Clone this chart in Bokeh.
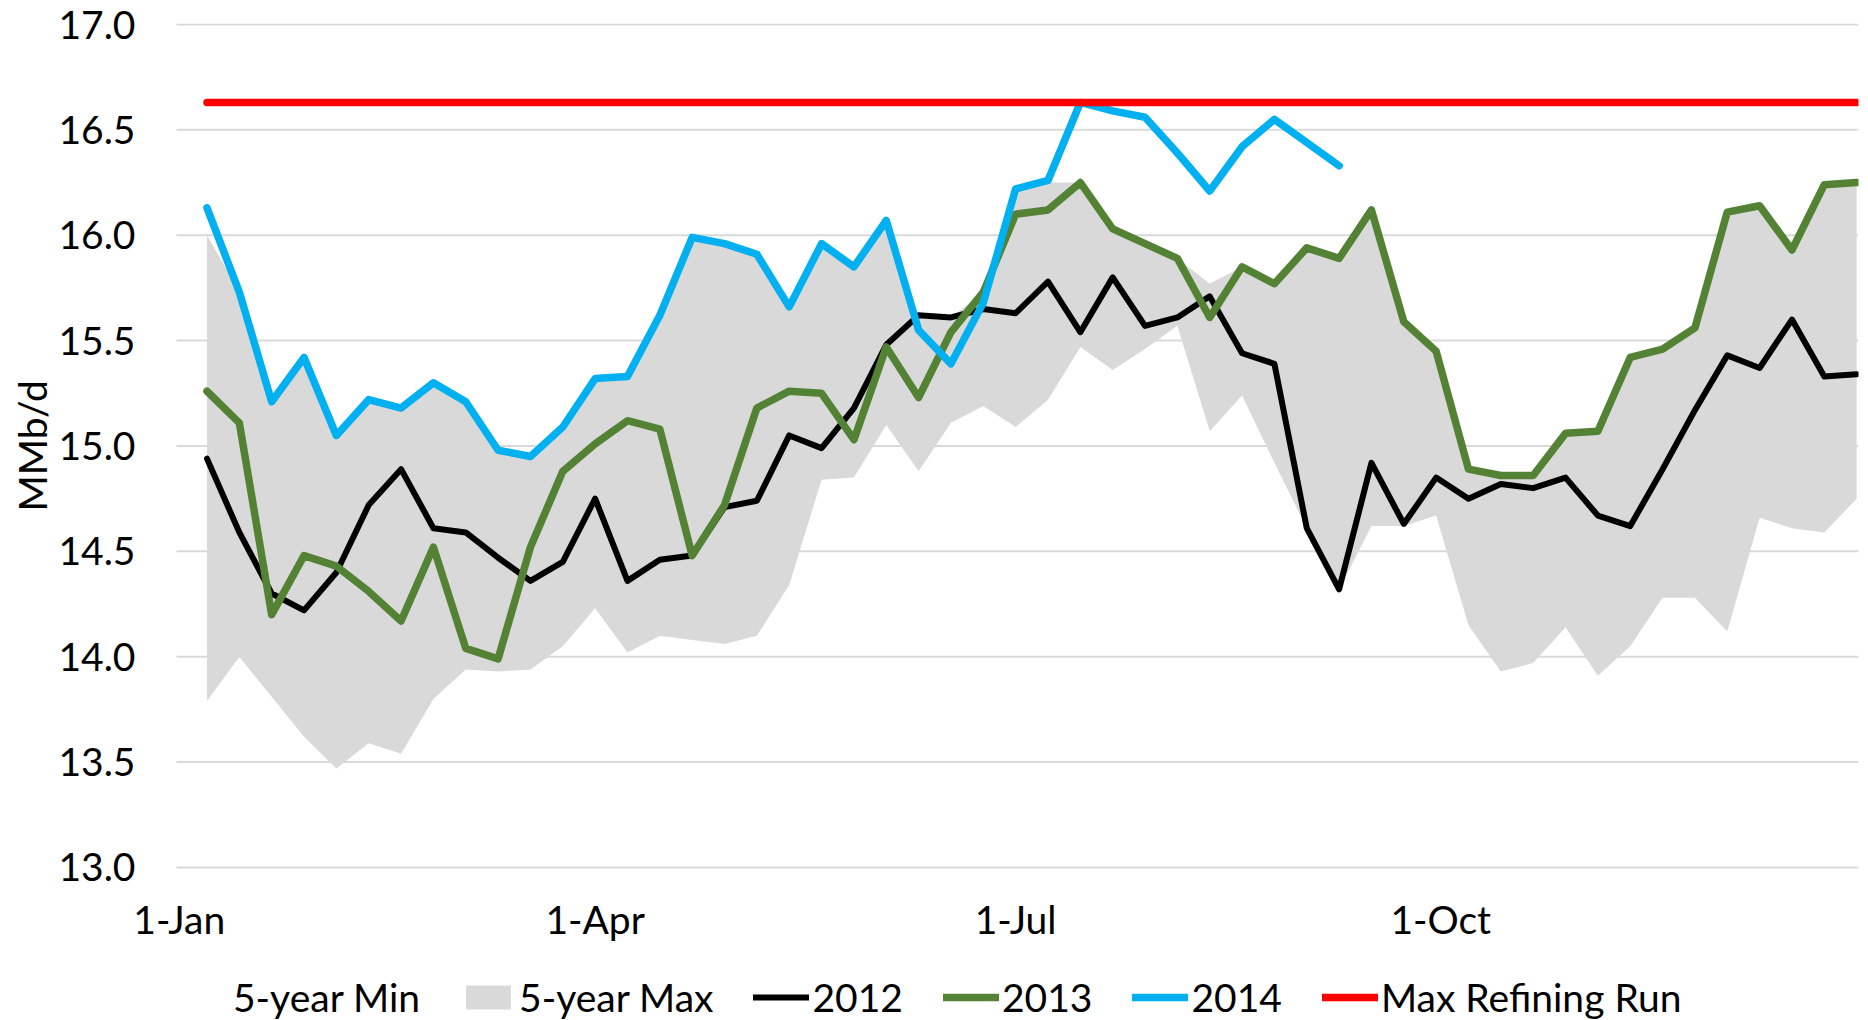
from bokeh.plotting import figure
from bokeh.models import Range1d, FixedTicker, NumeralTickFormatter, Legend, LegendItem, Title
from bokeh.embed import file_html
from bokeh.resources import INLINE

# ---- data -------------------------------------------------------------
# weekly observations, x = day of year (0 = 1-Jan), first week ends ~7-Jan
week_day = [6 + 7 * i for i in range(52)]

band_min = [13.79, 14.00, 13.81, 13.62, 13.47, 13.59, 13.54, 13.80, 13.94, 13.93,
            13.94, 14.05, 14.23, 14.02, 14.10, 14.08, 14.06, 14.10, 14.34, 14.84,
            14.85, 15.10, 14.88, 15.11, 15.19, 15.09, 15.22, 15.47, 15.36, 15.46,
            15.57, 15.07, 15.24, 14.92, 14.61, 14.32, 14.62, 14.62, 14.67, 14.15,
            13.93, 13.97, 14.14, 13.91, 14.05, 14.28, 14.28, 14.12, 14.66, 14.61,
            14.59, 14.75]

band_max = [16.00, 15.73, 15.21, 15.42, 15.05, 15.22, 15.18, 15.30, 15.21, 14.98,
            14.95, 15.09, 15.32, 15.33, 15.62, 15.99, 15.96, 15.91, 15.66, 15.96,
            15.85, 16.07, 15.62, 15.61, 15.73, 16.22, 16.25, 16.25, 16.03, 15.96,
            15.89, 15.77, 15.85, 15.77, 15.94, 15.89, 16.12, 15.59, 15.45, 14.89,
            14.86, 14.86, 15.06, 15.07, 15.42, 15.46, 15.56, 16.11, 16.14, 15.93,
            16.24, 16.25]

y2012 = [14.94, 14.59, 14.30, 14.22, 14.40, 14.72, 14.89, 14.61, 14.59, 14.47,
         14.36, 14.45, 14.75, 14.36, 14.46, 14.48, 14.71, 14.74, 15.05, 14.99,
         15.18, 15.48, 15.62, 15.61, 15.65, 15.63, 15.78, 15.54, 15.80, 15.57,
         15.61, 15.71, 15.44, 15.39, 14.61, 14.32, 14.92, 14.63, 14.85, 14.75,
         14.82, 14.80, 14.85, 14.67, 14.62, 14.89, 15.17, 15.43, 15.37, 15.60,
         15.33, 15.34]

y2013 = [15.26, 15.11, 14.20, 14.48, 14.43, 14.31, 14.17, 14.52, 14.04, 13.99,
         14.52, 14.88, 15.01, 15.12, 15.08, 14.48, 14.72, 15.18, 15.26, 15.25,
         15.03, 15.47, 15.23, 15.54, 15.73, 16.10, 16.12, 16.25, 16.03, 15.96,
         15.89, 15.61, 15.85, 15.77, 15.94, 15.89, 16.12, 15.59, 15.45, 14.89,
         14.86, 14.86, 15.06, 15.07, 15.42, 15.46, 15.56, 16.11, 16.14, 15.93,
         16.24, 16.25]

y2014 = [16.13, 15.73, 15.21, 15.42, 15.05, 15.22, 15.18, 15.30, 15.21, 14.98,
         14.95, 15.09, 15.32, 15.33, 15.62, 15.99, 15.96, 15.91, 15.66, 15.96,
         15.85, 16.07, 15.55, 15.39, 15.68, 16.22, 16.26, 16.63, 16.59, 16.56,
         16.39, 16.21, 16.42, 16.55, 16.44, 16.33]

max_refining_run = [16.63] * 52

y_ticks = [13.0, 13.5, 14.0, 14.5, 15.0, 15.5, 16.0, 16.5, 17.0]
x_tick_days = [0, 90, 181, 273]
x_tick_labels = ["1-Jan", "1-Apr", "1-Jul", "1-Oct"]

# date-axis span of the plot area (days)
AXIS_DAY_START, AXIS_DAY_END = -0.6, 363.4

# ---- styling ------------------------------------------------------------
FONT = "Lato"
FS = "39px"
C_BAND = "#D9D9D9"
C_GRID = "#D9D9D9"
C_2012 = "#000000"
C_2013 = "#548235"
C_2014 = "#00B0F0"
C_RUN = "#FF0000"

# The frame is widened a little to the left (so the first date label is not
# clipped) and runs down to the page bottom (room for the legend); the grid
# is drawn only over the 1-Jan..31-Dec / 13..17 area.
p = figure(width=1868, height=1020,
           x_range=Range1d(-9.47, AXIS_DAY_END), y_range=Range1d(12.274, 17.0047),
           output_backend="svg", toolbar_location=None,
           min_border_left=135, min_border_right=10,
           min_border_top=23, min_border_bottom=0)
p.outline_line_color = None
p.background_fill_color = "white"
p.xgrid.visible = False
p.ygrid.visible = False

p.yaxis.ticker = FixedTicker(ticks=y_ticks)
p.yaxis.formatter = NumeralTickFormatter(format="0.0")
p.yaxis.axis_line_color = None
p.yaxis.major_tick_line_color = None
p.yaxis.minor_tick_line_color = None
p.yaxis.major_label_standoff = -6
p.yaxis.major_label_text_font = FONT
p.yaxis.major_label_text_font_size = FS
p.yaxis.major_label_text_color = "black"

p.add_layout(Title(text="MMb/d", align="left", offset=509, standoff=2,
                   text_font=FONT, text_font_size=FS, text_font_style="normal",
                   text_color="black"), "left")

p.xaxis.fixed_location = 13.0
p.xaxis.ticker = FixedTicker(ticks=x_tick_days)
p.xaxis.major_label_overrides = dict(zip(x_tick_days, x_tick_labels))
p.xaxis.axis_line_color = None
p.xaxis.major_tick_line_color = None
p.xaxis.minor_tick_line_color = None
p.xaxis.major_label_standoff = 23
p.xaxis.major_label_text_font = FONT
p.xaxis.major_label_text_font_size = FS
p.xaxis.major_label_text_color = "black"

# ---- glyphs -------------------------------------------------------------
p.segment(x0=[AXIS_DAY_START] * len(y_ticks), x1=[AXIS_DAY_END] * len(y_ticks),
          y0=y_ticks, y1=y_ticks, line_color=C_GRID, line_width=2)

r_min = p.varea(x=week_day, y1=band_min, y2=band_min, fill_color="white", fill_alpha=0)
r_band = p.varea(x=week_day, y1=band_min, y2=band_max, fill_color=C_BAND)
r12 = p.line(week_day, y2012, line_color=C_2012, line_width=6,
             line_cap="round", line_join="round")
r13 = p.line(week_day, y2013, line_color=C_2013, line_width=7.5,
             line_cap="round", line_join="round")
r14 = p.line(week_day[:len(y2014)], y2014, line_color=C_2014, line_width=7.5,
             line_cap="round", line_join="round")
rrun = p.line(week_day, max_refining_run, line_color=C_RUN, line_width=7.5,
              line_cap="round", line_join="round")

legend = Legend(items=[
    LegendItem(label="5-year Min", renderers=[r_min]),
    LegendItem(label="5-year Max", renderers=[r_band]),
    LegendItem(label="2012", renderers=[r12]),
    LegendItem(label="2013", renderers=[r13]),
    LegendItem(label="2014", renderers=[r14]),
    LegendItem(label="Max Refining Run", renderers=[rrun]),
], orientation="horizontal", location=(39, 0),
   glyph_width=56, glyph_height=30, label_standoff=3, spacing=40,
   padding=0, margin=0, border_line_color=None, background_fill_alpha=0,
   label_text_font=FONT, label_text_font_size=FS, label_text_color="black",
   label_height=30)
p.add_layout(legend, "center")

open("out.html", "w").write(file_html(p, INLINE))
